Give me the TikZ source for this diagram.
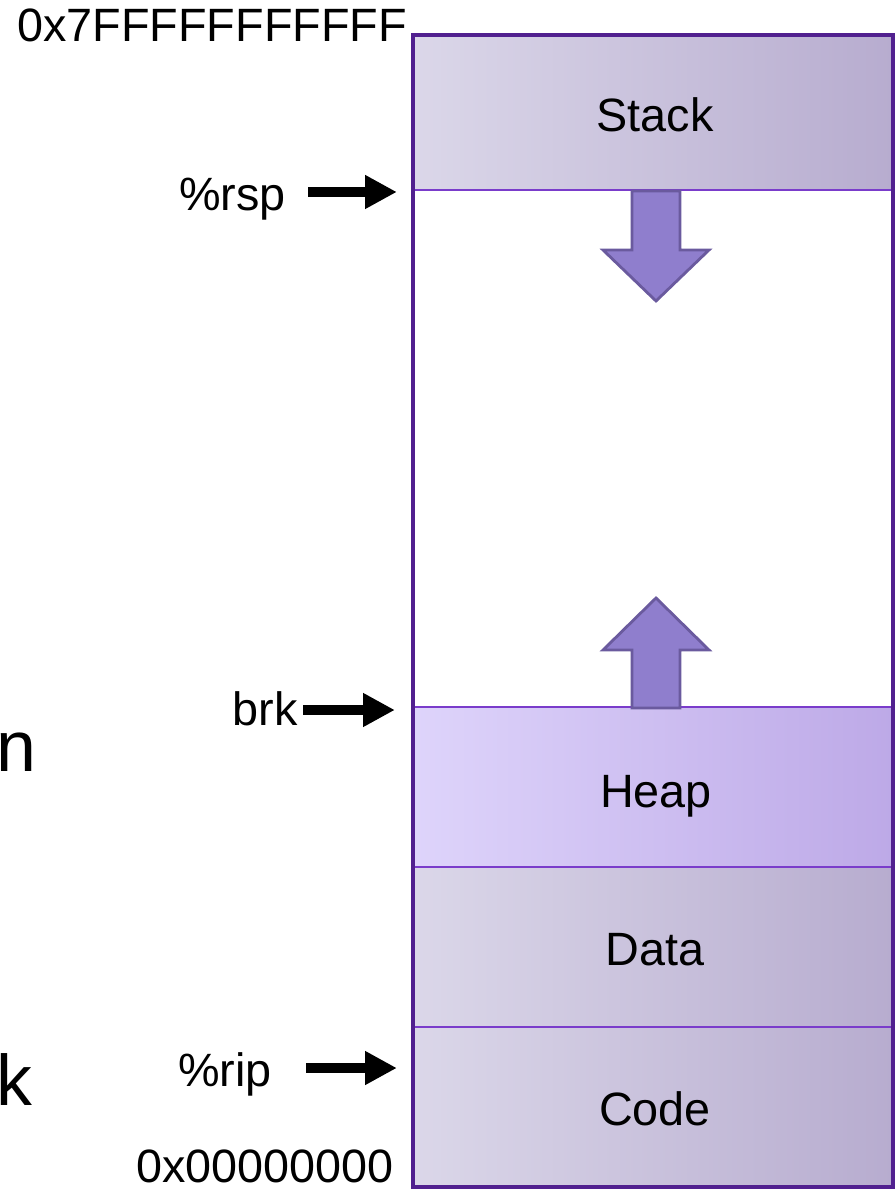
\documentclass[tikz,border=0pt]{standalone}
\usepackage{fontspec}
\setmainfont{Liberation Sans}
\usepackage{tikz}
\usetikzlibrary{arrows, arrows.meta, calc}

\definecolor{rahmen}{HTML}{51208F}
\definecolor{trenn}{HTML}{7A3CCB}
\definecolor{grauL}{HTML}{DBD7E9}
\definecolor{grauR}{HTML}{B7ACCF}
\definecolor{heapL}{HTML}{DED4FB}
\definecolor{heapR}{HTML}{BDA9E7}
\definecolor{pfeilF}{HTML}{8F7ECD}
\definecolor{pfeilR}{HTML}{6A5A9E}

\begin{document}
\begin{tikzpicture}[>=latex, thick, inner sep=0pt, x=0.1mm, y=-0.1mm,
	every node/.style={font=\fontsize{13.3}{16}\selectfont},
	segment/.style={draw=trenn, line width=0.6pt, minimum width=48mm, minimum height=16mm, left color=grauL, right color=grauR},
	blockpfeil/.style={fill=pfeilF, draw=pfeilR, line width=0.8pt, line join=miter},
	zeiger/.style={-{Triangle[length=9pt,width=9pt]}, line width=2.9pt, black},
	gross/.style={font=\fontsize{20.4}{24}\selectfont}]
	
	\useasboundingbox (0,0) rectangle (894,1189);
	
	% Segmente
	\node[segment, minimum height=15.5mm](stack) at (653,112.5) {};
	\node[segment, left color=heapL, right color=heapR](heap) at (653,787) {};
	\node[segment](data) at (653,947) {};
	\node[segment](code) at (653,1107) {};
	
	\node[anchor=base](Stack) at (655,132) {Stack};
	\node[anchor=base](Heap) at (656,807) {Heap};
	\node[anchor=base](Data) at (655,965) {Data};
	\node[anchor=base](Code) at (655,1125) {Code};
	
	% Wachstumsrichtung
	\draw[blockpfeil] (632,191) -- (680,191) -- (680,250) -- (709,250) -- (656,301) -- (603,250) -- (632,250) -- cycle;
	\draw[blockpfeil] (632,708) -- (680,708) -- (680,650) -- (709,650) -- (656,598) -- (603,650) -- (632,650) -- cycle;
	
	% Rahmen
	\draw[rahmen, line width=1.15pt] (413,35) rectangle (893,1187);
	
	% Adressen und Register
	\node[anchor=base west](top) at (16,42) {0x7FFFFFFFFFFF};
	\node[anchor=base west](bottom) at (135,1182) {0x00000000};
	\node[anchor=base east](rsp) at (287,211) {\%rsp};
	\node[anchor=base east](brk) at (299,725) {brk};
	\node[anchor=base east](rip) at (273,1086) {\%rip};
	
	\node[gross, anchor=base west](n) at (-5,771) {n};
	\node[gross, anchor=base west](k) at (-5,1105) {k};
	
	\node[](rsp_start) at (305,192) {};
	\node[](rsp_ende) at (400,192) {};
	
	\node[](brk_start) at (300,710) {};
	\node[](brk_ende) at (398,710) {};
	
	\node[](rip_start) at (303,1068) {};
	\node[](rip_ende) at (400,1068) {};
	
	% Zeiger
	\draw[zeiger](rsp_start) edge (rsp_ende);
	\draw[zeiger](brk_start) edge (brk_ende);
	\draw[zeiger](rip_start) edge (rip_ende);
\end{tikzpicture}
\end{document}
